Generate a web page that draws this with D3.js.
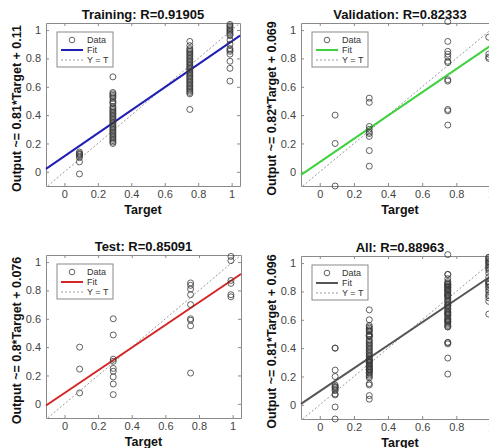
<!DOCTYPE html>
<html>
<head>
<meta charset="utf-8">
<script src="https://cdn.jsdelivr.net/npm/d3@7"></script>
<style>
  body { margin: 0; background: #fff; }
  svg { display: block; font-family: "Liberation Sans", Arial, sans-serif; }
  .axis path, .axis line { stroke: #8a8a8a; }
  .axis text { fill: #444; font-size: 11px; }
  .plot-title, .axis-title { font-weight: bold; fill: #111; }
  .legend text { font-size: 9px; fill: #333; }
</style>
</head>
<body>
<svg id="chart"></svg>
<script>
// target levels (same for every set)
const targetLevels = [0.09, 0.29, 0.75, 0.99];

// network outputs, one list per target level
const trainOut = [
  [0.14, 0.13, 0.125, 0.12, 0.11, 0.10, 0.07, -0.015],
  [0.67, 0.56, 0.55, 0.54, 0.53, 0.52, 0.50, 0.49, 0.48, 0.46, 0.45, 0.44, 0.43, 0.42, 0.41, 0.40, 0.39, 0.38,
   0.37, 0.36, 0.35, 0.34, 0.33, 0.32, 0.31, 0.30, 0.29, 0.28, 0.27, 0.26, 0.25, 0.24, 0.23, 0.22, 0.21, 0.20],
  [0.92, 0.89, 0.87, 0.86, 0.85, 0.84, 0.83, 0.82, 0.81, 0.80, 0.79, 0.78, 0.77, 0.76, 0.75, 0.74, 0.73, 0.72,
   0.71, 0.70, 0.69, 0.68, 0.67, 0.66, 0.65, 0.64, 0.63, 0.62, 0.61, 0.60, 0.59, 0.58, 0.57, 0.56, 0.55, 0.44],
  [1.04, 1.03, 1.02, 1.01, 1.00, 0.99, 0.98, 0.97, 0.96, 0.93, 0.90, 0.87, 0.86, 0.85, 0.83, 0.78, 0.73, 0.64]
];
const valOut = [
  [0.40, 0.20, -0.10],
  [0.52, 0.49, 0.32, 0.30, 0.28, 0.27, 0.25, 0.15, 0.04],
  [1.06, 0.92, 0.85, 0.83, 0.81, 0.78, 0.77, 0.65, 0.64, 0.44, 0.43, 0.33],
  [0.95, 0.83, 0.81, 0.80]
];
const testOut = [
  [0.40, 0.245, 0.077],
  [0.60, 0.486, 0.315, 0.30, 0.25, 0.23, 0.19, 0.14, 0.065],
  [0.853, 0.836, 0.81, 0.77, 0.70, 0.60, 0.59, 0.55, 0.217],
  [1.04, 1.01, 0.87, 0.85, 0.77, 0.755]
];
// "All" is the three sets together
const allOut = targetLevels.map((t, i) => trainOut[i].concat(valOut[i], testOut[i]));

const setNames = ['Training', 'Validation', 'Test', 'All'];
const rValues = ['0.91905', '0.82333', '0.85091', '0.88963'];
const fitSlope = [0.81, 0.82, 0.8, 0.81];
const fitIntercept = [0.11, 0.069, 0.076, 0.096];
const fitColors = ['#1f1fb4', '#3fd23f', '#d42424', '#555555'];
const tickValues = [0, 0.2, 0.4, 0.6, 0.8, 1];
const legendLabels = ['Data', 'Fit', 'Y = T'];

const svg = d3.select('#chart')
    .attr('width', 489)
    .attr('height', 448);

// panel boxes (axes area in page pixels)
const panels = [
  { left: 46, top: 23, width: 194, height: 163, out: trainOut },
  { left: 301, top: 23, width: 198, height: 163, out: valOut },
  { left: 46, top: 255, width: 195, height: 163, out: testOut },
  { left: 301, top: 256, width: 198, height: 163, out: allOut }
];

panels.forEach((p, i) => {
  let g = svg.append('g')
      .attr('transform', `translate(${p.left},${p.top})`);

  let x = d3.scaleLinear().domain([-0.11, 1.05]).range([0, p.width]);
  let y = d3.scaleLinear().domain([-0.1, 1.05]).range([p.height, 0]);

  // box + inward ticks on all four sides
  g.append('g').attr('class', 'axis')
      .attr('transform', `translate(0,${p.height})`)
      .call(d3.axisBottom(x).tickValues(tickValues).tickSize(-3).tickSizeOuter(0).tickPadding(4).tickFormat(d3.format('~g')));
  g.append('g').attr('class', 'axis')
      .call(d3.axisLeft(y).tickValues(tickValues).tickSize(-3).tickSizeOuter(0).tickPadding(5).tickFormat(d3.format('~g')));
  g.append('g').attr('class', 'axis')
      .call(d3.axisTop(x).tickValues(tickValues).tickSize(-3).tickSizeOuter(0).tickFormat(''));
  g.append('g').attr('class', 'axis')
      .attr('transform', `translate(${p.width},0)`)
      .call(d3.axisRight(y).tickValues(tickValues).tickSize(-3).tickSizeOuter(0).tickFormat(''));

  // Y = T line
  g.append('line')
      .attr('x1', x(-0.1)).attr('y1', y(-0.1))
      .attr('x2', x(1.05)).attr('y2', y(1.05))
      .attr('stroke', '#9a9a9a')
      .attr('stroke-width', 1)
      .attr('stroke-dasharray', '2,2');

  // fit line
  let xd = x.domain();
  g.append('line')
      .attr('x1', x(xd[0])).attr('y1', y(fitSlope[i] * xd[0] + fitIntercept[i]))
      .attr('x2', x(xd[1])).attr('y2', y(fitSlope[i] * xd[1] + fitIntercept[i]))
      .attr('stroke', fitColors[i])
      .attr('stroke-width', 2);

  // data circles
  let pts = [];
  targetLevels.forEach((t, k) => p.out[k].forEach(v => pts.push({ t: t, o: v })));
  g.selectAll('circle.pt')
      .data(pts)
      .join('circle')
      .attr('class', 'pt')
      .attr('cx', d => x(d.t))
      .attr('cy', d => y(d.o))
      .attr('r', 3)
      .attr('fill', 'none')
      .attr('stroke', '#3a3a3a')
      .attr('stroke-width', 0.8);

  // legend
  let lg = g.append('g').attr('class', 'legend')
      .attr('transform', 'translate(11,9)');
  lg.append('rect')
      .attr('width', 56).attr('height', 35)
      .attr('fill', '#fff')
      .attr('stroke', '#8a8a8a');
  lg.append('circle')
      .attr('cx', 15).attr('cy', 8).attr('r', 2.8)
      .attr('fill', 'none').attr('stroke', '#3a3a3a').attr('stroke-width', 0.8);
  lg.append('line')
      .attr('x1', 4).attr('x2', 26).attr('y1', 18).attr('y2', 18)
      .attr('stroke', fitColors[i]).attr('stroke-width', 2);
  lg.append('line')
      .attr('x1', 4).attr('x2', 26).attr('y1', 28).attr('y2', 28)
      .attr('stroke', '#9a9a9a').attr('stroke-dasharray', '2,2');
  lg.selectAll('text')
      .data(legendLabels)
      .join('text')
      .attr('x', 30)
      .attr('y', (d, k) => 8 + k * 10)
      .attr('dy', '0.35em')
      .text(d => d);

  // titles
  g.append('text')
      .attr('class', 'plot-title')
      .attr('x', p.width / 2)
      .attr('y', -4)
      .style('text-anchor', 'middle')
      .style('font-size', '13px')
      .text(`${setNames[i]}: R=${rValues[i]}`);

  g.append('text')
      .attr('class', 'axis-title')
      .attr('x', p.width / 2)
      .attr('y', p.height + 28)
      .style('text-anchor', 'middle')
      .style('font-size', '12.5px')
      .text('Target');

  g.append('text')
      .attr('class', 'axis-title')
      .attr('transform', 'rotate(-90)')
      .attr('x', -p.height / 2 - 4)
      .attr('y', -25)
      .style('text-anchor', 'middle')
      .style('font-size', '12.5px')
      .text(`Output ~= ${fitSlope[i]}*Target + ${fitIntercept[i]}`);
});
</script>
</body>
</html>
